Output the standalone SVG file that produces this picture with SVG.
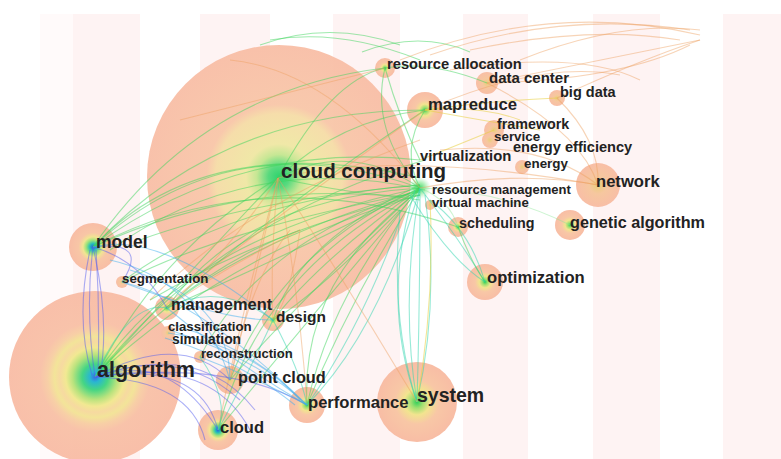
<svg xmlns="http://www.w3.org/2000/svg" width="781" height="459" viewBox="0 0 781 459">
<defs>
<radialGradient id="gCC"><stop offset="0" stop-color="#22d066"/><stop offset="0.08" stop-color="#4fd878"/><stop offset="0.17" stop-color="#c3e68f"/><stop offset="0.25" stop-color="#efe7a3"/><stop offset="0.48" stop-color="#f5dca6"/><stop offset="0.55" stop-color="#f8c6a8"/><stop offset="1" stop-color="#f8bea6"/></radialGradient>
<radialGradient id="gAlg"><stop offset="0" stop-color="#2b63e6"/><stop offset="0.06" stop-color="#1fb3cf"/><stop offset="0.15" stop-color="#3bd47e"/><stop offset="0.26" stop-color="#b5e277"/><stop offset="0.34" stop-color="#f1e88d"/><stop offset="0.41" stop-color="#f6d89c"/><stop offset="0.47" stop-color="#f2e394"/><stop offset="0.55" stop-color="#f7cda2"/><stop offset="0.64" stop-color="#f8c0a6"/><stop offset="1" stop-color="#f8bca5"/></radialGradient>
<radialGradient id="gBlue"><stop offset="0" stop-color="#2460e0"/><stop offset="0.14" stop-color="#26c0b8"/><stop offset="0.28" stop-color="#9ae27a"/><stop offset="0.42" stop-color="#f1e592"/><stop offset="0.6" stop-color="#f8c6a6"/><stop offset="1" stop-color="#f8bda5"/></radialGradient>
<radialGradient id="gNode"><stop offset="0" stop-color="#2fd05c"/><stop offset="0.15" stop-color="#9fe070"/><stop offset="0.32" stop-color="#f2e48f"/><stop offset="0.55" stop-color="#f8c7a6"/><stop offset="1" stop-color="#f8bda5"/></radialGradient>
<radialGradient id="gSmall"><stop offset="0" stop-color="#e9cf7a"/><stop offset="0.4" stop-color="#f6c79f"/><stop offset="1" stop-color="#f8bea6"/></radialGradient>
<radialGradient id="gHub"><stop offset="0" stop-color="#2fd65e" stop-opacity="0.95"/><stop offset="0.5" stop-color="#5fe070" stop-opacity="0.5"/><stop offset="1" stop-color="#8fe79a" stop-opacity="0"/></radialGradient>
</defs>
<style>
.lbl{font-family:"Liberation Sans",Arial,Helvetica,sans-serif;font-weight:bold;fill:#222}
.stripe{fill:#fef3f3}
#links path{fill:none;stroke-width:1.1}
.g{stroke:#3fd65e;opacity:.5}
.t{stroke:#2fd6b0;opacity:.5}
.o{stroke:#eea060;opacity:.45}
.y{stroke:#e8d040;opacity:.55}
.b{stroke:#5560f0;opacity:.5}
.c{stroke:#40b0f0;opacity:.5}
.lg{stroke:#8fe79a;opacity:.45}
</style>
<rect width="781" height="459" fill="#ffffff"/>
<g id="background">
<rect class="stripe" x="40" y="14" width="33" height="445" opacity="0.4"/>
<rect class="stripe" x="73" y="14" width="67" height="445"/>
<rect class="stripe" x="200" y="14" width="70" height="445"/>
<rect class="stripe" x="333" y="14" width="67" height="445"/>
<rect class="stripe" x="463" y="14" width="65" height="445"/>
<rect class="stripe" x="593" y="14" width="67" height="445"/>
<rect class="stripe" x="723" y="14" width="58" height="445"/>
</g>
<g id="node-circles">
<circle cx="279" cy="177" r="132" fill="url(#gCC)" opacity="0.95"/>
<circle cx="95" cy="377" r="86" fill="url(#gAlg)" opacity="0.95"/>
<circle cx="417" cy="402" r="40" fill="url(#gNode)"/>
<circle cx="93" cy="247" r="24" fill="url(#gBlue)"/>
<circle cx="598" cy="185" r="22" fill="url(#gSmall)"/>
<circle cx="425" cy="110" r="18" fill="url(#gNode)"/>
<circle cx="485" cy="282" r="18" fill="url(#gNode)"/>
<circle cx="570" cy="225" r="15" fill="url(#gNode)"/>
<circle cx="307" cy="405" r="18" fill="url(#gNode)"/>
<circle cx="218" cy="430" r="20" fill="url(#gBlue)"/>
<circle cx="230" cy="380" r="14" fill="url(#gSmall)"/>
<circle cx="167" cy="308" r="12" fill="url(#gNode)"/>
<circle cx="273" cy="320" r="11" fill="url(#gNode)"/>
<circle cx="385" cy="68" r="10" fill="url(#gNode)"/>
<circle cx="487" cy="83" r="11" fill="url(#gSmall)"/>
<circle cx="557" cy="98" r="8" fill="url(#gSmall)"/>
<circle cx="494" cy="130" r="10" fill="url(#gSmall)"/>
<circle cx="490" cy="140" r="8" fill="url(#gSmall)"/>
<circle cx="522" cy="167" r="7" fill="url(#gSmall)"/>
<circle cx="458" cy="227" r="10" fill="url(#gNode)"/>
<circle cx="122" cy="282" r="6" fill="url(#gSmall)"/>
<circle cx="200" cy="357" r="6" fill="url(#gSmall)"/>
<circle cx="168" cy="333" r="7" fill="url(#gSmall)"/>
<circle cx="430" cy="205" r="5" fill="url(#gSmall)"/>
<circle cx="420" cy="188" r="11" fill="url(#gHub)"/>
</g>
<g id="links">
<path class="g" d="M93,247 Q230,120 420,188"/>
<path class="g" d="M93,247 Q240,140 420,160"/>
<path class="g" d="M93,247 Q220,110 425,110"/>
<path class="g" d="M93,247 Q200,90 385,68"/>
<path class="g" d="M93,247 Q260,160 458,227"/>
<path class="g" d="M93,247 Q250,175 420,200"/>
<path class="g" d="M100,240 Q210,130 420,178"/>
<path class="g" d="M110,250 Q250,150 425,190"/>
<path class="g" d="M95,377 Q180,240 420,188"/>
<path class="g" d="M95,377 Q200,260 278,178"/>
<path class="g" d="M95,377 Q160,250 278,178"/>
<path class="g" d="M95,377 Q220,220 425,160"/>
<path class="g" d="M95,377 Q230,250 420,195"/>
<path class="g" d="M95,377 Q190,270 300,230"/>
<path class="g" d="M167,308 Q240,200 420,188"/>
<path class="g" d="M167,308 Q260,220 425,110"/>
<path class="g" d="M167,308 Q250,240 420,190"/>
<path class="g" d="M122,282 Q230,200 420,185"/>
<path class="g" d="M122,282 Q220,230 420,192"/>
<path class="g" d="M140,240 Q250,200 420,185"/>
<path class="g" d="M150,300 Q270,230 420,195"/>
<path class="g" d="M200,357 Q260,240 420,190"/>
<path class="g" d="M230,380 Q280,250 420,188"/>
<path class="g" d="M218,430 Q260,270 420,190"/>
<path class="g" d="M307,405 Q300,280 420,190"/>
<path class="g" d="M273,320 Q300,240 420,185"/>
<path class="g" d="M278,178 Q350,140 420,188"/>
<path class="g" d="M278,178 Q340,120 425,110"/>
<path class="g" d="M278,178 Q330,80 385,68"/>
<path class="g" d="M278,178 Q380,200 420,195"/>
<path class="g" d="M260,45 Q330,20 400,45"/>
<path class="g" d="M270,40 Q340,28 420,60"/>
<path class="g" d="M362,52 Q420,30 470,52"/>
<path class="g" d="M385,68 Q370,130 420,188"/>
<path class="g" d="M385,68 Q400,120 420,160"/>
<path class="g" d="M385,68 Q430,60 487,83"/>
<path class="g" d="M425,110 Q400,150 420,188"/>
<path class="g" d="M420,188 Q300,250 167,308"/>
<path class="g" d="M420,188 Q320,260 273,320"/>
<path class="g" d="M420,188 Q300,300 230,380"/>
<path class="g" d="M420,188 Q350,300 307,405"/>
<path class="g" d="M420,188 Q300,330 218,430"/>
<path class="g" d="M410,200 Q330,300 307,405"/>
<path class="g" d="M400,210 Q310,300 273,320"/>
<path class="t" d="M420,188 Q400,300 417,402"/>
<path class="t" d="M420,188 Q420,300 417,402"/>
<path class="t" d="M425,195 Q440,300 417,402"/>
<path class="t" d="M415,190 Q380,300 417,402"/>
<path class="t" d="M400,210 Q390,320 417,402"/>
<path class="y" d="M430,200 Q435,300 417,402"/>
<path class="t" d="M420,188 Q460,240 485,282"/>
<path class="t" d="M430,200 Q470,230 485,282"/>
<path class="t" d="M410,195 Q450,260 485,282"/>
<path class="g" d="M458,227 Q470,260 485,282"/>
<path class="t" d="M420,188 Q380,330 307,405"/>
<path class="t" d="M400,220 Q360,330 307,405"/>
<path class="lg" d="M420,188 Q450,200 458,227"/>
<path class="lg" d="M420,188 Q500,190 570,225"/>
<path class="o" d="M278,178 Q230,250 167,308"/>
<path class="o" d="M278,178 Q270,260 273,320"/>
<path class="o" d="M278,178 Q250,300 230,380"/>
<path class="o" d="M278,178 Q300,300 307,405"/>
<path class="o" d="M278,178 Q240,320 218,430"/>
<path class="o" d="M278,178 Q350,290 417,402"/>
<path class="o" d="M290,230 Q250,280 230,380"/>
<path class="o" d="M300,230 Q290,300 273,320"/>
<path class="o" d="M300,230 Q220,270 167,308"/>
<path class="o" d="M150,300 Q250,200 420,140"/>
<path class="o" d="M160,310 Q270,220 425,110"/>
<path class="o" d="M180,120 Q300,90 385,68"/>
<path class="o" d="M230,60 Q330,70 420,188"/>
<path class="o" d="M278,178 Q400,150 598,185"/>
<path class="o" d="M400,60 Q550,0 700,35"/>
<path class="o" d="M430,55 Q560,10 690,30"/>
<path class="o" d="M487,83 Q600,60 700,40"/>
<path class="o" d="M487,83 Q620,80 690,45"/>
<path class="o" d="M557,98 Q640,60 700,40"/>
<path class="o" d="M450,70 Q580,50 640,80"/>
<path class="o" d="M520,60 Q620,20 700,30"/>
<path class="o" d="M425,110 Q540,60 620,75"/>
<path class="o" d="M470,50 Q590,25 680,40"/>
<path class="o" d="M420,188 Q520,170 598,185"/>
<path class="o" d="M440,150 Q540,140 598,185"/>
<path class="o" d="M487,83 Q580,130 598,185"/>
<path class="o" d="M557,98 Q600,140 598,185"/>
<path class="y" d="M425,110 Q480,120 540,130"/>
<path class="y" d="M425,110 Q500,100 557,98"/>
<path class="y" d="M425,110 Q480,105 520,120"/>
<path class="y" d="M420,160 Q470,140 494,130"/>
<path class="b" d="M93,247 Q85,310 95,377"/>
<path class="b" d="M96,250 Q100,310 98,375"/>
<path class="b" d="M90,250 Q75,320 92,375"/>
<path class="b" d="M93,247 Q110,320 100,377"/>
<path class="b" d="M95,377 Q180,330 230,380"/>
<path class="b" d="M95,377 Q170,350 218,430"/>
<path class="b" d="M95,377 Q200,360 218,430"/>
<path class="b" d="M95,377 Q190,380 205,440"/>
<path class="b" d="M95,377 Q210,355 250,430"/>
<path class="b" d="M95,377 Q230,360 307,405"/>
<path class="b" d="M95,377 Q200,340 255,410"/>
<path class="b" d="M95,377 Q180,345 240,400"/>
<path class="b" d="M93,247 Q150,240 122,282"/>
<path class="b" d="M93,247 Q140,260 167,308"/>
<path class="c" d="M93,247 Q160,230 273,320"/>
<path class="c" d="M122,282 Q200,300 307,405"/>
<path class="c" d="M167,308 Q230,360 307,405"/>
<path class="c" d="M200,357 Q260,380 307,405"/>
<path class="c" d="M170,330 Q260,360 307,405"/>
<path class="c" d="M168,333 Q250,345 300,400"/>
<path class="c" d="M175,325 Q255,350 303,402"/>
<path class="c" d="M165,338 Q240,360 295,405"/>
<path class="c" d="M130,270 Q230,300 230,380"/>
<path class="c" d="M122,282 Q220,320 273,320"/>
<path class="c" d="M110,260 Q200,280 230,380"/>
<path class="t" d="M95,377 Q130,300 167,308"/>
<path class="t" d="M200,357 Q230,400 218,430"/>
<path class="t" d="M273,320 Q240,390 218,430"/>
<path class="t" d="M273,320 Q300,370 307,405"/>
<path class="t" d="M167,308 Q220,280 273,320"/>
</g>
<g id="labels">
<text class="lbl" x="281" y="178" font-size="20.5">cloud computing</text>
<text class="lbl" x="387" y="69" font-size="14.7">resource allocation</text>
<text class="lbl" x="489" y="83" font-size="15">data center</text>
<text class="lbl" x="560" y="97" font-size="14.5">big data</text>
<text class="lbl" x="428" y="110" font-size="16.7">mapreduce</text>
<text class="lbl" x="497" y="129" font-size="14.3">framework</text>
<text class="lbl" x="494" y="140.5" font-size="13.4">service</text>
<text class="lbl" x="513" y="152" font-size="14.6">energy efficiency</text>
<text class="lbl" x="420" y="161" font-size="14.8">virtualization</text>
<text class="lbl" x="524" y="168" font-size="13.4">energy</text>
<text class="lbl" x="596" y="187" font-size="16.6">network</text>
<text class="lbl" x="432" y="194" font-size="13">resource management</text>
<text class="lbl" x="432" y="207" font-size="13.2">virtual machine</text>
<text class="lbl" x="459" y="228" font-size="14.3">scheduling</text>
<text class="lbl" x="570" y="228" font-size="16.2">genetic algorithm</text>
<text class="lbl" x="96" y="248" font-size="17.5">model</text>
<text class="lbl" x="122" y="283" font-size="13.3">segmentation</text>
<text class="lbl" x="487" y="283" font-size="16.6">optimization</text>
<text class="lbl" x="171" y="310" font-size="16.4">management</text>
<text class="lbl" x="276" y="322" font-size="15.5">design</text>
<text class="lbl" x="168" y="331" font-size="13.2">classification</text>
<text class="lbl" x="172" y="343.5" font-size="13.8">simulation</text>
<text class="lbl" x="201" y="358" font-size="13.1">reconstruction</text>
<text class="lbl" x="97" y="377" font-size="21.5">algorithm</text>
<text class="lbl" x="238" y="383" font-size="16.3">point cloud</text>
<text class="lbl" x="417" y="402" font-size="19.5">system</text>
<text class="lbl" x="308" y="408" font-size="16.6">performance</text>
<text class="lbl" x="220" y="433" font-size="16.5">cloud</text>
</g>
</svg>
